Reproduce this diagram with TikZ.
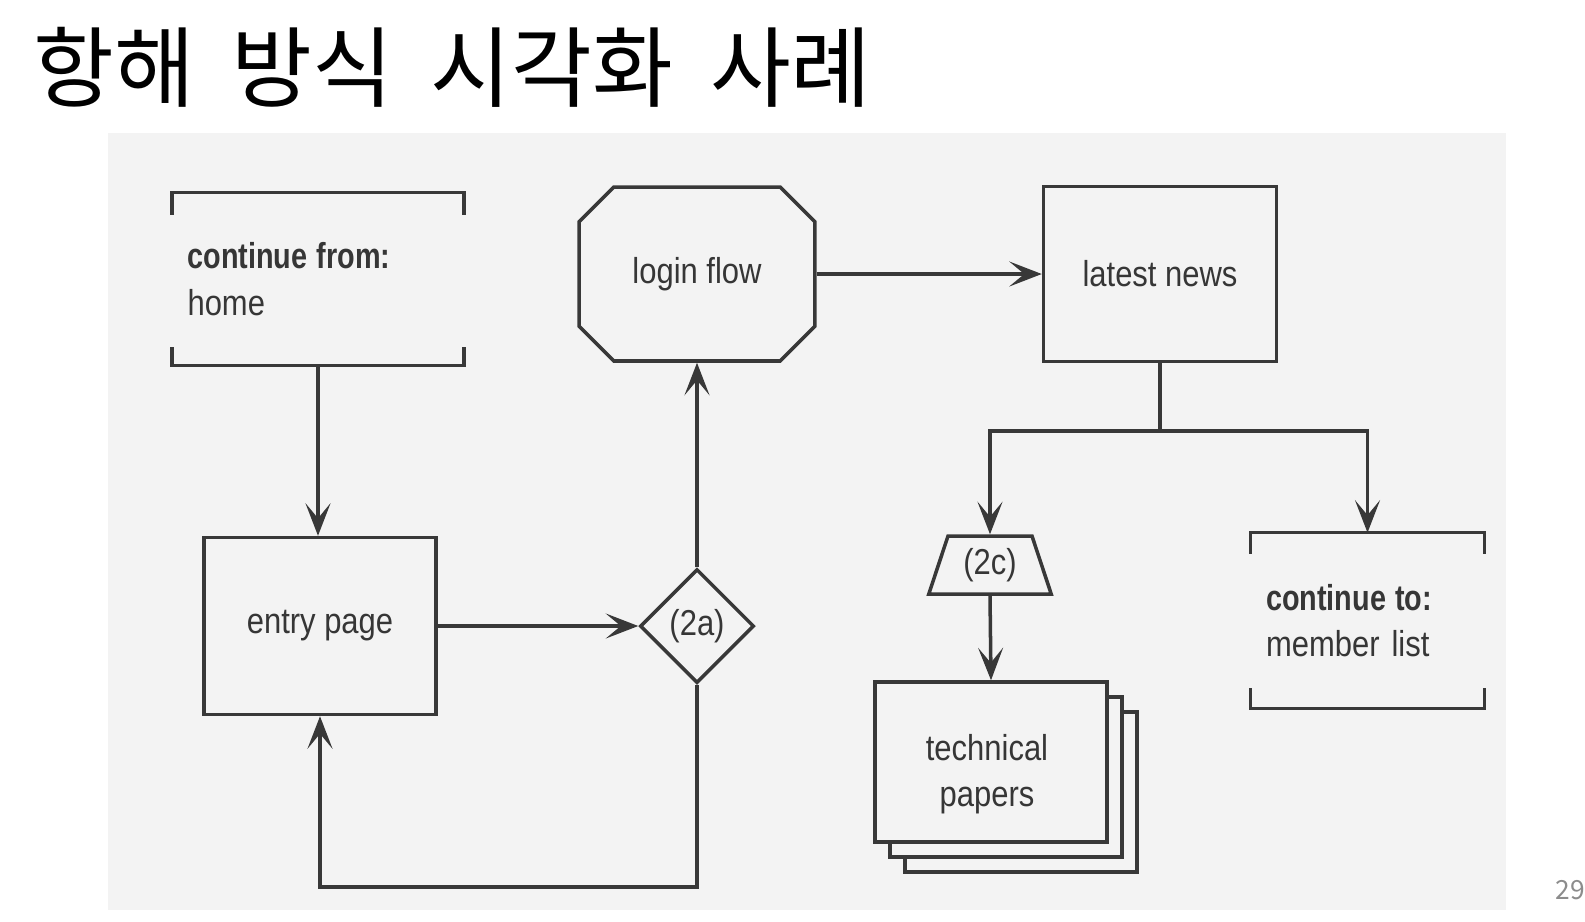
\documentclass[tikz,border=0pt]{standalone}
\usepackage{fontspec}
\usepackage{xcolor,tikz}
\usetikzlibrary{positioning,calc,arrows.meta,shapes.geometric,shapes.misc}
\newfontfamily\titlefont{Noto Sans CJK KR}
\newfontfamily\diagfont[FakeStretch=0.86, BoldFeatures={FakeStretch=0.8}]{Liberation Sans}
\definecolor{navBack}{HTML}{F3F3F3}
\definecolor{navLine}{HTML}{383838}
\definecolor{navText}{HTML}{363636}
\definecolor{navGrey}{HTML}{8C8C8C}

\tikzset{
  navfont/.style={font=\diagfont\fontsize{20.5}{26.5}\selectfont, text=navText},
  pagebox/.style={navfont, draw=navLine, line width=2pt, fill=navBack,
    rectangle, inner sep=0pt, align=center},
  bracketbox/.style={navfont, rectangle, inner xsep=0.3cm, inner ysep=0pt,
    align=left},
  conn/.style={draw=navLine, line width=2pt,
    -{Stealth[length=6.5mm, width=5mm, inset=3mm]}},
  plainline/.style={draw=navLine, line width=2pt},
}

\begin{document}
\begin{tikzpicture}[x=0.02cm, y=-0.02cm]

% --- CANVAS ---
\useasboundingbox (0,0) rectangle (1585,921);
\fill[white] (0,0) rectangle (1585,921);
\fill[navBack] (108,133) rectangle (1506,910);

% --- TITLE ---
\node[font=\titlefont\fontsize{50}{60}\selectfont, anchor=base west, inner sep=0pt]
  (title) at (33,100) {\spaceskip=0.74cm plus 0pt\relax 항해 방식 시각화 사례};
\node[font=\titlefont\fontsize{15}{18}\selectfont, text=navGrey, anchor=east, inner sep=0pt]
  (pagenum) at (1585,890) {29};

% --- LEFT FLOW ---
\node[bracketbox, minimum width=5.82cm, minimum height=3.44cm, text width=5.22cm]
  (from) at (318,279) {\textbf{continue\kern-0.08em\ from:}\\home};
\draw[plainline] ($(from.north west)+(0,22)$) -- (from.north west)
  -- (from.north east) -- ++(0,22);
\draw[plainline] ($(from.south west)+(0,-18)$) -- (from.south west)
  -- (from.south east) -- ++(0,-18);

\node[pagebox, minimum width=4.64cm, minimum height=3.54cm]
  (entry) at (320,626) {entry page};
\node[pagebox, diamond, aspect=1, minimum size=2.28cm]
  (gate) at (697,626) {(2a)};
\node[pagebox, chamfered rectangle, chamfered rectangle xsep=0.36cm,
  chamfered rectangle ysep=0.36cm, minimum width=4.72cm, minimum height=3.48cm]
  (login) at (697,274) {login flow};

% --- RIGHT FLOW ---
\node[pagebox, minimum width=4.66cm, minimum height=3.5cm]
  (news) at (1160,274) {latest news};
\node[pagebox, trapezium, trapezium left angle=70, trapezium right angle=70,
  trapezium stretches=true, minimum width=2.46cm, minimum height=1.16cm]
  (filter) at (990,565) {(2c)};

% stacked pages, back to front
\node[pagebox, minimum width=4.64cm, minimum height=3.2cm]
  (papersC) at (1021,792) {};
\node[pagebox, minimum width=4.64cm, minimum height=3.2cm]
  (papersB) at (1006,777) {};
\node[pagebox, minimum width=4.64cm, minimum height=3.2cm]
  (papers) at (991,762) {};
\node[navfont, align=center, inner sep=0pt]
  (papersText) at (987,774) {technical\\papers};

\node[bracketbox, minimum width=4.66cm, minimum height=3.5cm, text width=4.06cm]
  (member) at (1367.5,620.5) {\textbf{continue\kern-0.08em\ to:}\\member list};
\draw[plainline] ($(member.north west)+(0,21)$) -- (member.north west)
  -- (member.north east) -- ++(0,21);
\draw[plainline] ($(member.south west)+(0,-20)$) -- (member.south west)
  -- (member.south east) -- ++(0,-20);

% --- CONNECTORS ---
\coordinate (loop) at (0,887);
\coordinate (split) at (0,431);
\draw[conn] (from.south) -- (from.south |- entry.north);
\draw[conn] (entry.east) -- (gate.west);
\draw[conn] (gate.north) -- (login.south);
\draw[conn] (gate.south) -- (gate.south |- loop) -| (entry.south);
\draw[conn] (login.east) -- (news.west);
\draw[conn] (news.south) -- (news.south |- split) -| (filter.north);
\draw[conn] (news.south) -- (news.south |- split) -| (member.north);
\draw[conn] (filter.south) -- (papers.north);

\end{tikzpicture}
\end{document}
